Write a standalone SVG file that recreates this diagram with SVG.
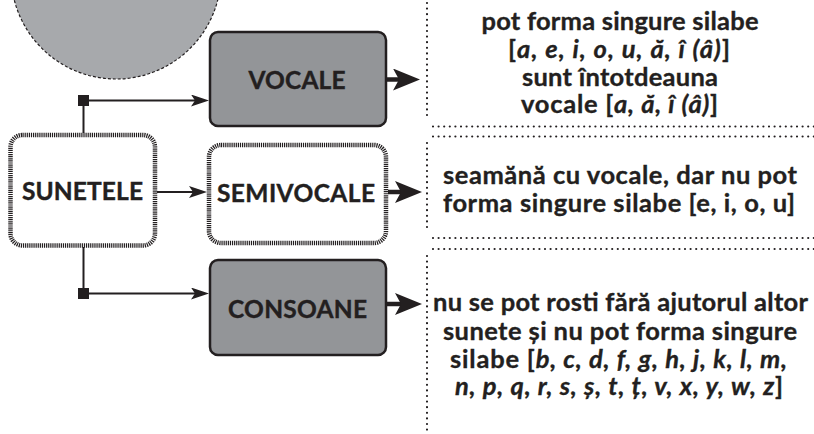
<svg xmlns="http://www.w3.org/2000/svg" width="814" height="434" viewBox="0 0 814 434">
<style>
.lbl{font-family:Lato,"Open Sans","Liberation Sans",sans-serif;font-weight:700;font-size:24.5px;fill:#231f20;stroke:#231f20;stroke-width:0.4;text-anchor:middle}
.desc{font-family:Lato,"Open Sans","Liberation Sans",sans-serif;font-weight:700;font-size:25.5px;fill:#231f20;stroke:#231f20;stroke-width:0.35;text-anchor:middle}
.it{font-style:italic}
.solid{fill:#939598;stroke:#231f20;stroke-width:2.5}
.hatch{fill:#ffffff;stroke:#231f20;stroke-width:4.5;stroke-dasharray:1.2 0.9}
.dots{fill:none;stroke:#231f20;stroke-width:2.2;stroke-linecap:round;stroke-dasharray:0 5.6}
.thin{fill:none;stroke:#231f20;stroke-width:2}
.thick{fill:none;stroke:#231f20;stroke-width:4.5}
</style>
<defs>
<marker id="ah" viewBox="0 0 18 12" refX="9" refY="6" markerWidth="18" markerHeight="12" markerUnits="userSpaceOnUse" orient="auto">
<path d="M0,0 L18,6 L0,12 L4,6 Z" fill="#231f20"/>
</marker>
<marker id="ahb" viewBox="0 0 27 22" refX="7" refY="11" markerWidth="27" markerHeight="22" markerUnits="userSpaceOnUse" orient="auto">
<path d="M0,0 L27,11 L0,22 L6,11 Z" fill="#231f20"/>
</marker>
</defs>

<g id="circle">
<circle cx="116" cy="-26" r="105" fill="#a7a9ac" stroke="#231f20" stroke-width="1.2" stroke-dasharray="3 2"/>
</g>

<g id="connectors">
<line class="thin" x1="83.5" y1="100.5" x2="83.5" y2="133"/>
<line class="thin" x1="83.5" y1="100.5" x2="200" y2="100.5" marker-end="url(#ah)"/>
<rect x="78" y="95" width="11" height="11" fill="#231f20"/>
<line class="thin" x1="157" y1="192" x2="198" y2="192" marker-end="url(#ah)"/>
<line class="thin" x1="83.5" y1="247" x2="83.5" y2="293.5"/>
<line class="thin" x1="83.5" y1="293.5" x2="200" y2="293.5" marker-end="url(#ah)"/>
<rect x="78" y="288" width="11" height="11" fill="#231f20"/>
<line class="thick" x1="387" y1="79.5" x2="400" y2="79.5" marker-end="url(#ahb)"/>
<line class="thick" x1="388" y1="192" x2="402" y2="192" marker-end="url(#ahb)"/>
<line class="thick" x1="387" y1="304" x2="402" y2="304" marker-end="url(#ahb)"/>
</g>

<g id="sunetele">
<rect class="hatch" x="10.5" y="135" width="144.5" height="110.5" rx="12"/>
<text class="lbl" x="82.5" y="200" textLength="121">SUNETELE</text>
</g>

<g id="vocale">
<rect class="solid" x="210" y="32" width="176" height="94" rx="8"/>
<text class="lbl" x="297" y="89" textLength="97">VOCALE</text>
</g>

<g id="semivocale">
<rect class="hatch" x="209" y="145" width="177" height="98" rx="12"/>
<text class="lbl" x="296" y="202" textLength="158">SEMIVOCALE</text>
</g>

<g id="consoane">
<rect class="solid" x="210" y="260" width="176" height="95" rx="8"/>
<text class="lbl" x="297.5" y="318" textLength="139">CONSOANE</text>
</g>

<g id="desc-vocale">
<path class="dots" d="M427,3 V118 M433,126.5 H814"/>
<text class="desc" x="620" y="30" textLength="277">pot forma singure silabe</text>
<text class="desc" x="619" y="58" textLength="222">[<tspan class="it">a, e, i, o, u, ă, î (â)</tspan>]</text>
<text class="desc" x="620" y="86" textLength="196">sunt întotdeauna</text>
<text class="desc" x="619.5" y="113" textLength="197">vocale [<tspan class="it">a, ă, î (â)</tspan>]</text>
</g>

<g id="desc-semivocale">
<path class="dots" d="M433,136.5 H814 M427,143 V232 M433,238 H814"/>
<text class="desc" x="620" y="184" textLength="354">seamănă cu vocale, dar nu pot</text>
<text class="desc" x="619" y="212" textLength="352">forma singure silabe [e, i, o, u]</text>
</g>

<g id="desc-consoane">
<path class="dots" d="M433,249 H814 M427,256 V434"/>
<text class="desc" x="620.5" y="311" textLength="375">nu se pot rosti fără ajutorul altor</text>
<text class="desc" x="620" y="340" textLength="354">sunete și nu pot forma singure</text>
<text class="desc" x="618.5" y="368" textLength="337">silabe [<tspan class="it">b, c, d, f, g, h, j, k, l, m,</tspan></text>
<text class="desc" x="619" y="395" textLength="328"><tspan class="it">n, p, q, r, s, ș, t, ț, v, x, y, w, z</tspan>]</text>
</g>
</svg>
